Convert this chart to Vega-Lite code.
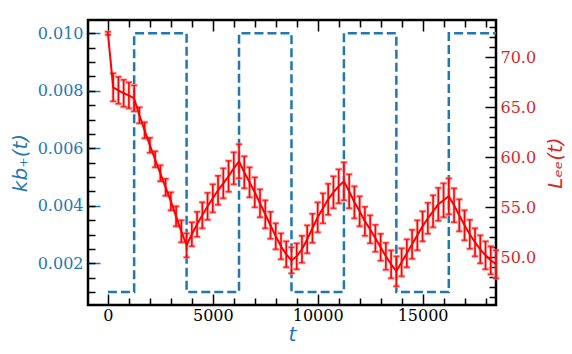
{
  "$schema": "https://vega.github.io/schema/vega-lite/v6.json",
  "width": 408,
  "height": 285,
  "autosize": {"type": "none"},
  "padding": {"left": 88, "top": 20, "right": 76, "bottom": 49},
  "config": {
    "view": {"stroke": "black", "strokeWidth": 2.5},
    "axis": {
      "grid": false,
      "domain": false,
      "labelFont": "DejaVu Serif",
      "labelFontSize": 16,
      "titleFont": "DejaVu Sans",
      "titleFontStyle": "italic",
      "titleFontWeight": "normal",
      "titleFontSize": 20,
      "tickWidth": 1.5,
      "tickColor": "black"
    }
  },
  "datasets": {
    "k": [
      {"t": 0, "k": 0.001}, {"t": 1250, "k": 0.01}, {"t": 3750, "k": 0.001},
      {"t": 6250, "k": 0.01}, {"t": 8750, "k": 0.001}, {"t": 11250, "k": 0.01},
      {"t": 13750, "k": 0.001}, {"t": 16250, "k": 0.01}, {"t": 18500, "k": 0.01}
    ],
    "L": [
      {"t": 0, "L": 72.4, "e": 0.15},
      {"t": 250, "L": 67.0, "e": 1.4},
      {"t": 500, "L": 66.7, "e": 1.35},
      {"t": 750, "L": 66.4, "e": 1.35},
      {"t": 1000, "L": 66.2, "e": 1.3},
      {"t": 1250, "L": 65.9, "e": 1.3},
      {"t": 1500, "L": 64.2, "e": 0.8},
      {"t": 1750, "L": 62.7, "e": 0.8},
      {"t": 2000, "L": 61.2, "e": 0.75},
      {"t": 2250, "L": 59.8, "e": 0.8},
      {"t": 2500, "L": 58.4, "e": 0.8},
      {"t": 2750, "L": 57.0, "e": 0.85},
      {"t": 3000, "L": 55.6, "e": 0.9},
      {"t": 3250, "L": 54.1, "e": 1.0},
      {"t": 3500, "L": 52.6, "e": 1.1},
      {"t": 3750, "L": 51.2, "e": 1.2},
      {"t": 4000, "L": 52.3, "e": 1.2},
      {"t": 4250, "L": 53.3, "e": 1.25},
      {"t": 4500, "L": 54.2, "e": 1.3},
      {"t": 4750, "L": 55.1, "e": 1.35},
      {"t": 5000, "L": 55.9, "e": 1.4},
      {"t": 5250, "L": 56.7, "e": 1.45},
      {"t": 5500, "L": 57.4, "e": 1.5},
      {"t": 5750, "L": 58.1, "e": 1.55},
      {"t": 6000, "L": 58.9, "e": 1.6},
      {"t": 6250, "L": 59.6, "e": 1.7},
      {"t": 6500, "L": 58.5, "e": 1.6},
      {"t": 6750, "L": 57.5, "e": 1.5},
      {"t": 7000, "L": 56.5, "e": 1.5},
      {"t": 7250, "L": 55.4, "e": 1.4},
      {"t": 7500, "L": 54.3, "e": 1.4},
      {"t": 7750, "L": 53.2, "e": 1.35},
      {"t": 8000, "L": 52.1, "e": 1.3},
      {"t": 8250, "L": 51.1, "e": 1.3},
      {"t": 8500, "L": 50.3, "e": 1.3},
      {"t": 8750, "L": 49.7, "e": 1.3},
      {"t": 9000, "L": 50.1, "e": 1.3},
      {"t": 9250, "L": 50.8, "e": 1.35},
      {"t": 9500, "L": 51.8, "e": 1.4},
      {"t": 9750, "L": 52.9, "e": 1.45},
      {"t": 10000, "L": 54.0, "e": 1.5},
      {"t": 10250, "L": 54.9, "e": 1.5},
      {"t": 10500, "L": 55.8, "e": 1.55},
      {"t": 10750, "L": 56.5, "e": 1.6},
      {"t": 11000, "L": 57.1, "e": 1.7},
      {"t": 11250, "L": 57.6, "e": 1.9},
      {"t": 11500, "L": 56.6, "e": 1.7},
      {"t": 11750, "L": 55.5, "e": 1.6},
      {"t": 12000, "L": 54.6, "e": 1.5},
      {"t": 12250, "L": 53.6, "e": 1.45},
      {"t": 12500, "L": 52.8, "e": 1.4},
      {"t": 12750, "L": 51.9, "e": 1.35},
      {"t": 13000, "L": 51.0, "e": 1.35},
      {"t": 13250, "L": 50.1, "e": 1.35},
      {"t": 13500, "L": 49.3, "e": 1.4},
      {"t": 13750, "L": 48.6, "e": 1.5},
      {"t": 14000, "L": 49.5, "e": 1.4},
      {"t": 14250, "L": 50.4, "e": 1.4},
      {"t": 14500, "L": 51.3, "e": 1.45},
      {"t": 14750, "L": 52.2, "e": 1.5},
      {"t": 15000, "L": 53.1, "e": 1.5},
      {"t": 15250, "L": 53.9, "e": 1.55},
      {"t": 15500, "L": 54.6, "e": 1.6},
      {"t": 15750, "L": 55.3, "e": 1.65},
      {"t": 16000, "L": 55.7, "e": 1.7},
      {"t": 16250, "L": 56.1, "e": 1.8},
      {"t": 16500, "L": 55.2, "e": 1.7},
      {"t": 16750, "L": 54.2, "e": 1.6},
      {"t": 17000, "L": 53.2, "e": 1.5},
      {"t": 17250, "L": 52.3, "e": 1.45},
      {"t": 17500, "L": 51.5, "e": 1.4},
      {"t": 17750, "L": 50.8, "e": 1.4},
      {"t": 18000, "L": 50.2, "e": 1.4},
      {"t": 18250, "L": 49.7, "e": 1.4},
      {"t": 18500, "L": 49.3, "e": 1.4}
    ]
  },
  "resolve": {
    "scale": {"y": "independent"},
    "axis": {"x": "independent", "y": "independent"}
  },
  "layer": [
    {
      "data": {"name": "k"},
      "mark": {"type": "point", "opacity": 0},
      "encoding": {
        "x": {"field": "t", "type": "quantitative", "scale": {"domain": [-950, 18500], "nice": false, "zero": false},
          "axis": {"orient": "bottom", "values": [0, 5000, 10000, 15000], "labels": false, "ticks": true, "tickSize": -11, "title": null}},
        "y": {"field": "k", "type": "quantitative", "scale": {"domain": [0.00055, 0.01046], "nice": false, "zero": false},
          "axis": {"orient": "left", "values": [0.002, 0.004, 0.006, 0.008, 0.01], "labels": false, "ticks": true, "tickSize": -12, "tickColor": "#1f77b4", "title": null}}
      }
    },
    {
      "data": {"name": "k"},
      "mark": {"type": "point", "opacity": 0},
      "encoding": {
        "x": {"field": "t", "type": "quantitative", "scale": {"domain": [-950, 18500], "nice": false, "zero": false},
          "axis": {"orient": "bottom", "values": [1000, 2000, 3000, 4000, 6000, 7000, 8000, 9000, 11000, 12000, 13000, 14000, 16000, 17000, 18000], "labels": false, "ticks": true, "tickSize": -7, "title": null}},
        "y": {"field": "k", "type": "quantitative", "scale": {"domain": [0.00055, 0.01046], "nice": false, "zero": false},
          "axis": {"orient": "left", "values": [0.001, 0.0015, 0.002, 0.0025, 0.003, 0.0035, 0.004, 0.0045, 0.005, 0.0055, 0.006, 0.0065, 0.007, 0.0075, 0.008, 0.0085, 0.009, 0.0095, 0.01], "labels": false, "ticks": true, "tickSize": -7, "title": null}}
      }
    },
    {
      "data": {"name": "L"},
      "mark": {"type": "point", "opacity": 0},
      "encoding": {
        "x": {"field": "t", "type": "quantitative", "scale": {"domain": [-950, 18500], "nice": false, "zero": false},
          "axis": {"orient": "top", "values": [0, 5000, 10000, 15000], "labels": false, "ticks": true, "tickSize": -11, "title": null}},
        "y": {"field": "L", "type": "quantitative", "scale": {"domain": [45.23, 73.73], "nice": false, "zero": false},
          "axis": {"orient": "right", "values": [50, 55, 60, 65, 70], "labels": false, "ticks": true, "tickSize": -11, "title": null}}
      }
    },
    {
      "data": {"name": "L"},
      "mark": {"type": "point", "opacity": 0},
      "encoding": {
        "x": {"field": "t", "type": "quantitative", "scale": {"domain": [-950, 18500], "nice": false, "zero": false},
          "axis": {"orient": "top", "values": [1000, 2000, 3000, 4000, 6000, 7000, 8000, 9000, 11000, 12000, 13000, 14000, 16000, 17000, 18000], "labels": false, "ticks": true, "tickSize": -7, "title": null}},
        "y": {"field": "L", "type": "quantitative", "scale": {"domain": [45.23, 73.73], "nice": false, "zero": false},
          "axis": {"orient": "right", "values": [46, 47, 48, 49, 51, 52, 53, 54, 56, 57, 58, 59, 61, 62, 63, 64, 66, 67, 68, 69, 71, 72, 73], "labels": false, "ticks": true, "tickSize": -7, "title": null}}
      }
    },
    {
      "data": {"name": "k"},
      "mark": {"type": "line", "interpolate": "step-after", "color": "#1f77b4", "strokeDash": [9, 4], "strokeWidth": 2.5},
      "encoding": {
        "x": {"field": "t", "type": "quantitative", "scale": {"domain": [-950, 18500], "nice": false, "zero": false},
          "axis": {"orient": "bottom", "values": [0, 5000, 10000, 15000], "format": "d", "ticks": false, "labelPadding": 2, "labelColor": "black",
            "title": "t", "titleColor": "#1f77b4", "titlePadding": 1}},
        "y": {"field": "k", "type": "quantitative", "scale": {"domain": [0.00055, 0.01046], "nice": false, "zero": false},
          "axis": {"orient": "left", "values": [0.002, 0.004, 0.006, 0.008, 0.01], "format": ".3f", "ticks": false, "labelPadding": 5, "labelColor": "#1f77b4",
            "title": "kb₊(t)", "titleColor": "#1f77b4", "titlePadding": 7}}
      }
    },
    {
      "data": {"name": "L"},
      "mark": {"type": "errorbar", "color": "#ff9090", "thickness": 3.2, "opacity": 0.6, "ticks": {"size": 7, "color": "#ff9090", "strokeWidth": 3.2, "opacity": 0.6}},
      "encoding": {
        "x": {"field": "t", "type": "quantitative", "scale": {"domain": [-950, 18500], "nice": false, "zero": false}, "axis": null},
        "y": {"field": "L", "type": "quantitative", "scale": {"domain": [45.23, 73.73], "nice": false, "zero": false}, "axis": null},
        "yError": {"field": "e"}
      }
    },
    {
      "data": {"name": "L"},
      "mark": {"type": "errorbar", "color": "#ff0000", "thickness": 1.6, "ticks": {"size": 6, "color": "#ff0000", "strokeWidth": 1.6}},
      "encoding": {
        "x": {"field": "t", "type": "quantitative", "scale": {"domain": [-950, 18500], "nice": false, "zero": false}, "axis": null},
        "y": {"field": "L", "type": "quantitative", "scale": {"domain": [45.23, 73.73], "nice": false, "zero": false}, "axis": null},
        "yError": {"field": "e"}
      }
    },
    {
      "data": {"name": "L"},
      "mark": {"type": "line", "color": "#ff0000", "strokeWidth": 2},
      "encoding": {
        "x": {"field": "t", "type": "quantitative", "scale": {"domain": [-950, 18500], "nice": false, "zero": false}, "axis": null},
        "y": {"field": "L", "type": "quantitative", "scale": {"domain": [45.23, 73.73], "nice": false, "zero": false},
          "axis": {"orient": "right", "values": [50, 55, 60, 65, 70], "format": ".1f", "ticks": false, "labelPadding": 4, "labelColor": "#d62728",
            "title": "Lₑₑ(t)", "titleColor": "#d62728", "titleAngle": 270, "titleBaseline": "top", "titlePadding": 10}}
      }
    }
  ]
}
